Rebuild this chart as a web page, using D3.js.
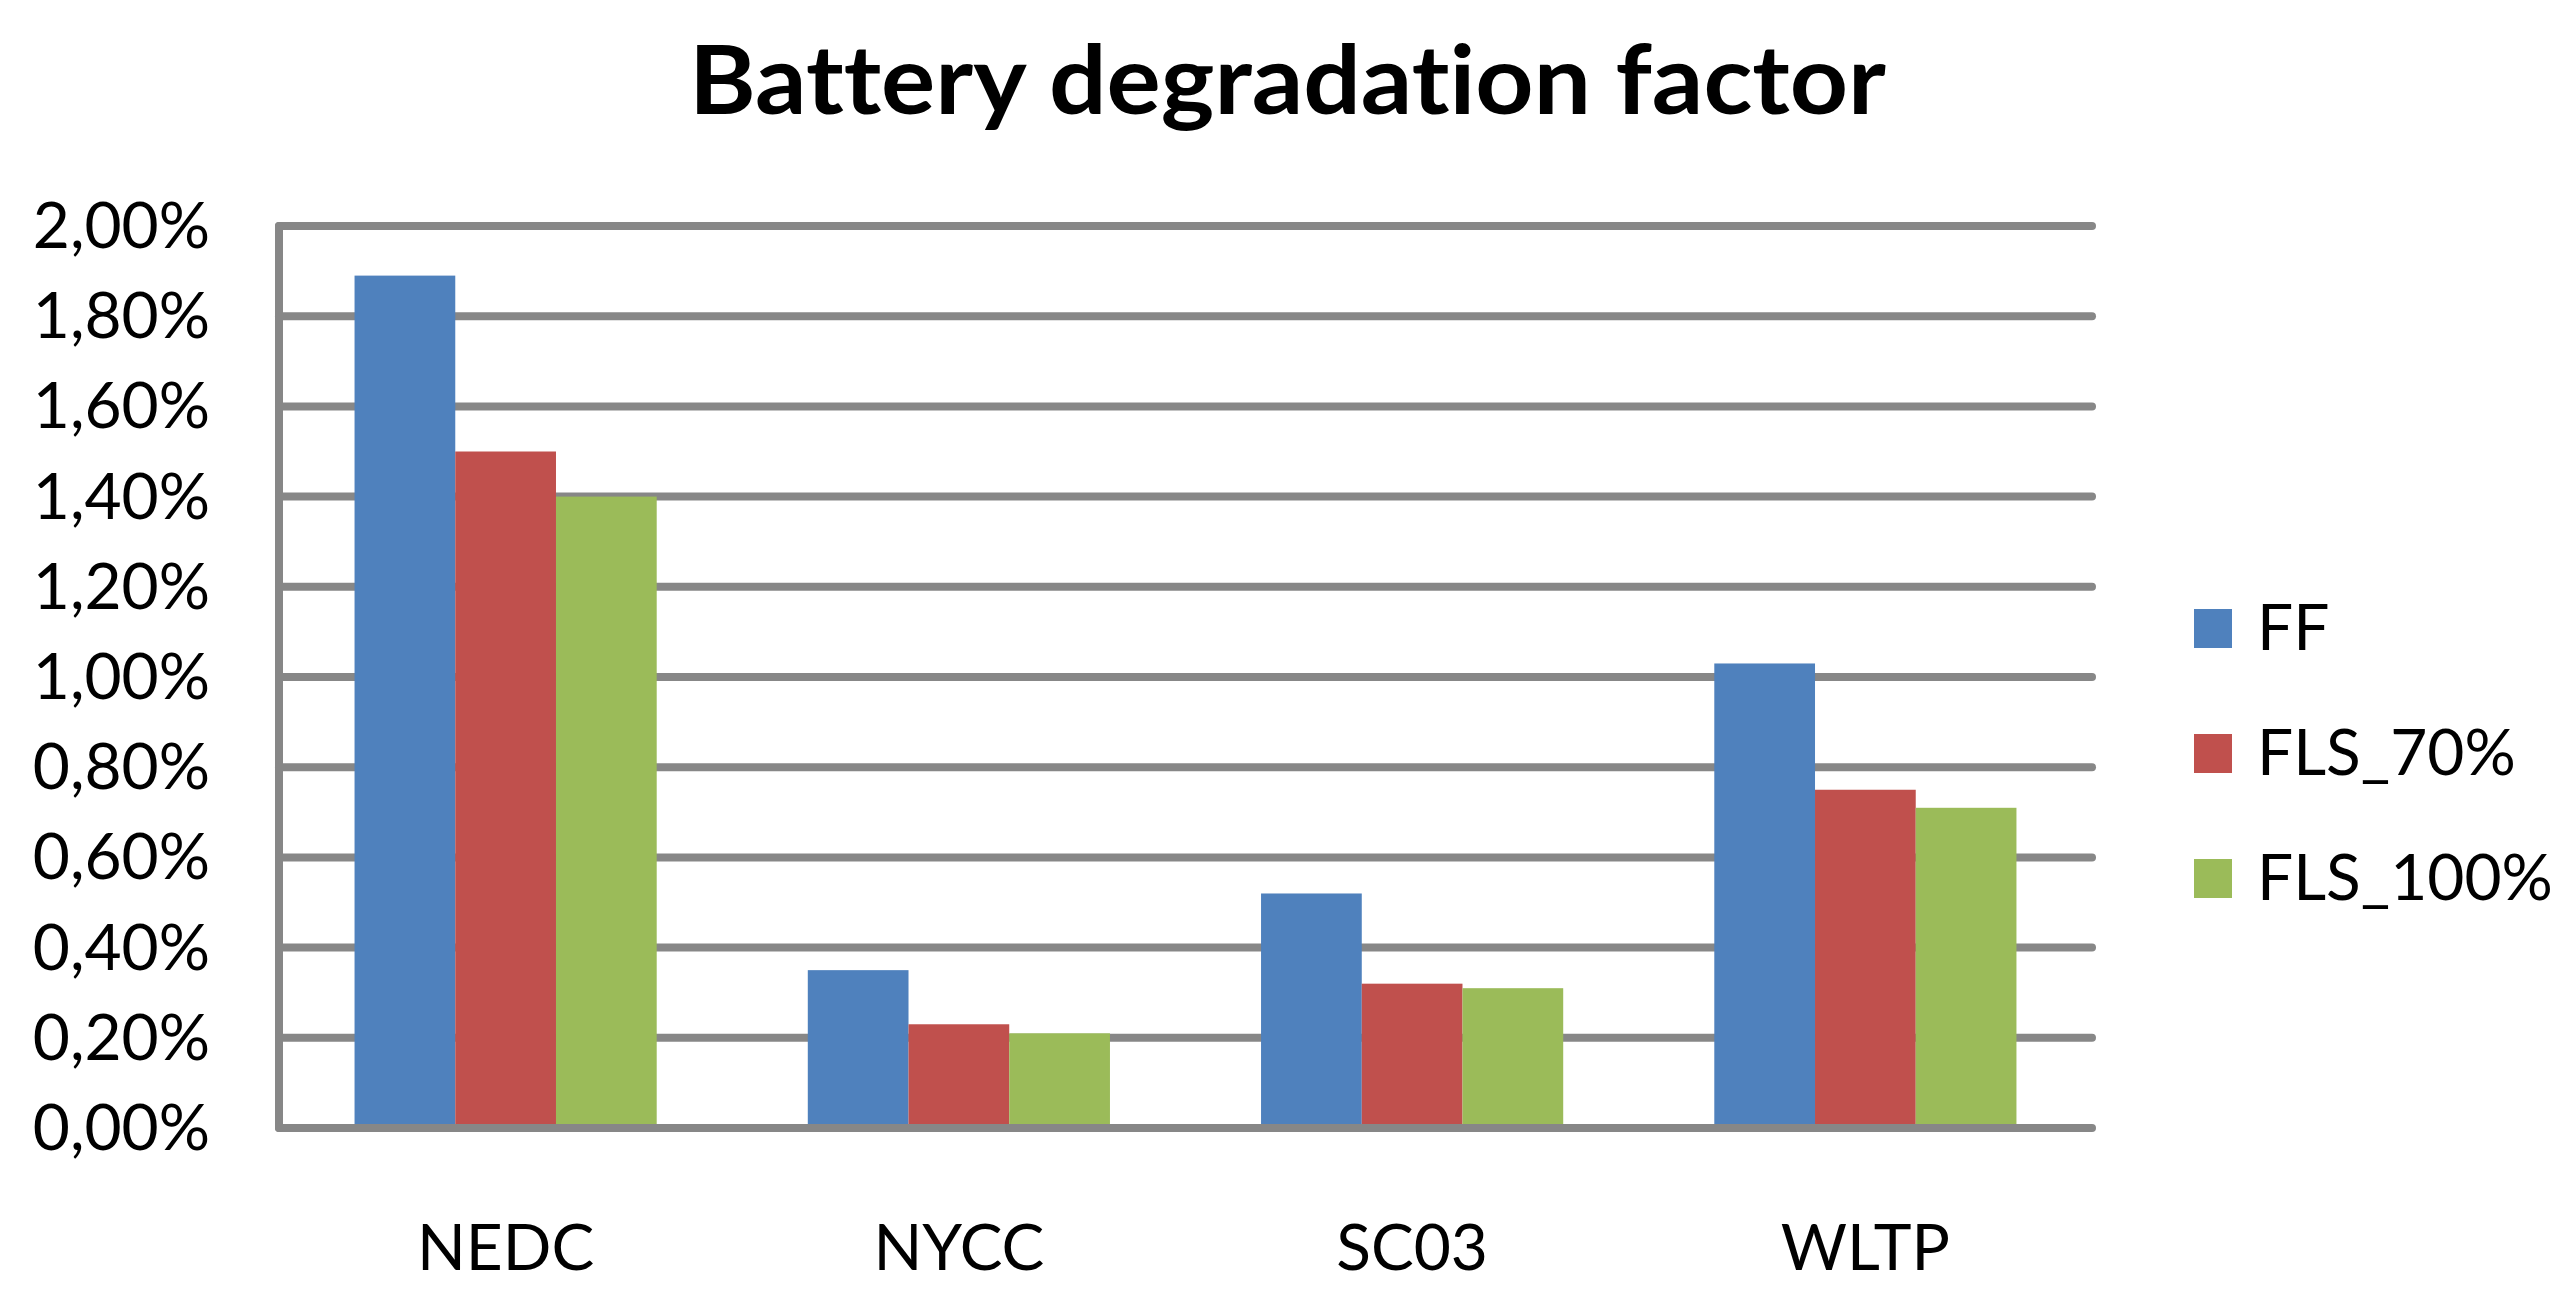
<!DOCTYPE html>
<html>
<head>
<meta charset="utf-8">
<script src="https://cdnjs.cloudflare.com/ajax/libs/d3/7.8.5/d3.min.js"></script>
<style>
    body { margin: 0; background: #fff; }
    svg { display: block; }
    text { font-family: Lato, "Open Sans", sans-serif; fill: #000; font-variant-ligatures: none; }
</style>
</head>
<body>
<div id="chart"></div>
<script>
// Datos del gráfico
const categories = ["NEDC", "NYCC", "SC03", "WLTP"];
const seriesNames = ["FF", "FLS_70%", "FLS_100%"];
const ffValues = [0.0189, 0.0035, 0.0052, 0.0103];
const fls70Values = [0.0150, 0.0023, 0.0032, 0.0075];
const fls100Values = [0.0140, 0.0021, 0.0031, 0.0071];
const yTicks = [0, 0.002, 0.004, 0.006, 0.008, 0.010, 0.012, 0.014, 0.016, 0.018, 0.020];

const colors = ["#4F81BD", "#C0504D", "#9BBB59"];
const gridColor = "#878787";

const width = 2575, height = 1314;
const plot = {left: 279, right: 2092, top: 226, bottom: 1128};

const svg = d3.select("#chart")
    .append("svg")
    .attr("width", width)
    .attr("height", height);

svg.append("rect").attr("width", width).attr("height", height).attr("fill", "#fff");

// Escalas
const x0 = d3.scaleBand()
    .domain(categories)
    .range([plot.left, plot.right])
    .paddingInner(1 / 3)
    .paddingOuter(1 / 6);

const x1 = d3.scaleBand()
    .domain(seriesNames)
    .range([0, x0.bandwidth()]);

const y = d3.scaleLinear()
    .domain([0, 0.02])
    .range([plot.bottom, plot.top]);

const fmt = v => (v * 100).toFixed(2).replace(".", ",") + "%";

// Líneas de cuadrícula (detrás de las barras)
svg.append("g")
    .selectAll("line")
    .data(yTicks.filter(d => d > 0))
    .enter()
    .append("line")
    .attr("x1", plot.left)
    .attr("x2", plot.right)
    .attr("y1", d => y(d))
    .attr("y2", d => y(d))
    .attr("stroke", gridColor)
    .attr("stroke-width", 8)
    .attr("stroke-linecap", "round");

// Barras
const rows = categories.map((c, i) => ({
    cat: c,
    values: [ffValues[i], fls70Values[i], fls100Values[i]]
}));

const groups = svg.append("g")
    .selectAll("g")
    .data(rows)
    .enter()
    .append("g")
    .attr("transform", d => "translate(" + x0(d.cat) + ",0)");

groups.selectAll("rect")
    .data(d => d.values.map((v, j) => ({name: seriesNames[j], value: v, idx: j})))
    .enter()
    .append("rect")
    .attr("x", d => x1(d.name))
    .attr("width", x1.bandwidth())
    .attr("y", d => y(d.value))
    .attr("height", d => y(0) - y(d.value))
    .attr("fill", d => colors[d.idx]);

// Ejes
svg.append("line")
    .attr("x1", plot.left).attr("x2", plot.right)
    .attr("y1", y(0)).attr("y2", y(0))
    .attr("stroke", gridColor)
    .attr("stroke-width", 8)
    .attr("stroke-linecap", "round");

svg.append("line")
    .attr("x1", plot.left).attr("x2", plot.left)
    .attr("y1", y(0.02)).attr("y2", y(0))
    .attr("stroke", gridColor)
    .attr("stroke-width", 8)
    .attr("stroke-linecap", "round");

// Etiquetas del eje Y
svg.append("g")
    .selectAll("text")
    .data(yTicks)
    .enter()
    .append("text")
    .attr("x", 210)
    .attr("y", d => y(d) + 22)
    .attr("text-anchor", "end")
    .style("font-size", "64px")
    .text(fmt);

// Etiquetas del eje X
svg.append("g")
    .selectAll("text")
    .data(categories)
    .enter()
    .append("text")
    .attr("x", d => x0(d) + x0.bandwidth() / 2)
    .attr("y", 1270)
    .attr("text-anchor", "middle")
    .style("font-size", "64px")
    .text(d => d);

// Título
svg.append("text")
    .attr("x", width / 2)
    .attr("y", 114)
    .attr("text-anchor", "middle")
    .style("font-size", "96px")
    .style("font-weight", "bold")
    .attr("textLength", 1197)
    .attr("lengthAdjust", "spacingAndGlyphs")
    .text("Battery degradation factor");

// Leyenda
const legend = svg.append("g")
    .selectAll("g")
    .data(seriesNames)
    .enter()
    .append("g")
    .attr("transform", (d, i) => "translate(2194," + (628 + i * 125) + ")");

legend.append("rect")
    .attr("x", 0)
    .attr("y", -19)
    .attr("width", 38)
    .attr("height", 39)
    .attr("fill", (d, i) => colors[i]);

legend.append("text")
    .attr("x", 63)
    .attr("y", 22)
    .style("font-size", "64px")
    .text(d => d);
</script>
</body>
</html>
